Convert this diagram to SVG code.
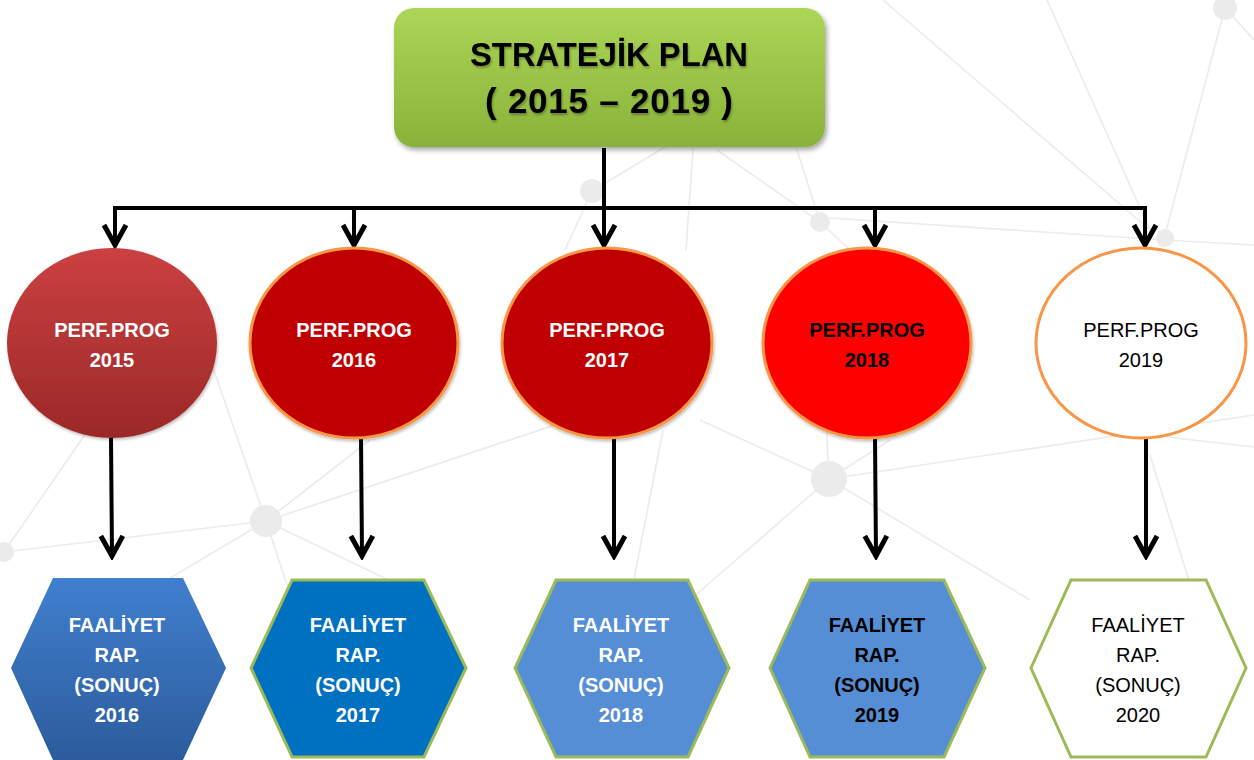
<svg xmlns="http://www.w3.org/2000/svg" width="1254" height="760" viewBox="0 0 1254 760">
<style>
.bg line{stroke:#ebebeb;stroke-width:1.6}
.bg circle{fill:#ebebeb}
.conn{stroke:#000;stroke-width:4;fill:none}
.t{font-family:"Liberation Sans",Arial,sans-serif;text-anchor:middle}
.tb{font-weight:bold}
.tw{fill:#fff}
.tk{fill:#000}
.circ{stroke:#f79646;stroke-width:3}
.hex{stroke:#9bbb59;stroke-width:3}
</style>
<defs>
<linearGradient id="gTop" x1="0" y1="0" x2="0" y2="1">
<stop offset="0" stop-color="#acd656"/>
<stop offset="1" stop-color="#89b23a"/>
</linearGradient>
<linearGradient id="gC1" x1="0" y1="0" x2="0" y2="1">
<stop offset="0" stop-color="#cc4040"/>
<stop offset="1" stop-color="#9b2828"/>
</linearGradient>
<linearGradient id="gH1" x1="0" y1="0" x2="0" y2="1">
<stop offset="0" stop-color="#407fce"/>
<stop offset="1" stop-color="#2c5c9c"/>
</linearGradient>
<filter id="sh" x="-10%" y="-10%" width="125%" height="130%">
<feDropShadow dx="2" dy="3" stdDeviation="2.5" flood-color="#000" flood-opacity="0.35"/>
</filter>
<filter id="shs" x="-10%" y="-10%" width="125%" height="130%">
<feDropShadow dx="1" dy="2" stdDeviation="1.5" flood-color="#000" flood-opacity="0.25"/>
</filter>
<filter id="tsh" x="-5%" y="-20%" width="110%" height="150%">
<feDropShadow dx="1" dy="2" stdDeviation="1" flood-color="#000" flood-opacity="0.3"/>
</filter>
<marker id="arr" markerUnits="userSpaceOnUse" viewBox="-26 -16 30 32" markerWidth="30" markerHeight="32" refX="0" refY="0" orient="auto">
<path d="M-20,-11 L0,0 L-20,11" fill="none" stroke="#000" stroke-width="5" stroke-linejoin="miter"/>
</marker>
</defs>
<rect width="1254" height="760" fill="#fff"/>
<g class="bg">
<line x1="266" y1="521" x2="4" y2="552"/>
<line x1="266" y1="521" x2="200" y2="330"/>
<line x1="266" y1="521" x2="600" y2="410"/>
<line x1="266" y1="521" x2="370" y2="440"/>
<line x1="266" y1="521" x2="430" y2="600"/>
<line x1="266" y1="521" x2="292" y2="600"/>
<line x1="266" y1="521" x2="150" y2="590"/>
<line x1="4" y1="552" x2="95" y2="420"/>
<line x1="829" y1="479" x2="826" y2="420"/>
<line x1="829" y1="479" x2="700" y2="420"/>
<line x1="829" y1="479" x2="890" y2="440"/>
<line x1="829" y1="479" x2="1254" y2="415"/>
<line x1="829" y1="479" x2="690" y2="600"/>
<line x1="829" y1="479" x2="1030" y2="600"/>
<line x1="663" y1="430" x2="630" y2="600"/>
<line x1="1150" y1="455" x2="1195" y2="600"/>
<line x1="1167" y1="437" x2="1254" y2="447"/>
<line x1="592" y1="191" x2="665" y2="147"/>
<line x1="592" y1="191" x2="565" y2="250"/>
<line x1="693" y1="148" x2="686" y2="250"/>
<line x1="717" y1="150" x2="820" y2="222"/>
<line x1="797" y1="150" x2="820" y2="222"/>
<line x1="820" y1="222" x2="850" y2="250"/>
<line x1="883" y1="0" x2="1150" y2="230"/>
<line x1="1047" y1="0" x2="1150" y2="230"/>
<line x1="1225" y1="8" x2="1165" y2="235"/>
<line x1="1225" y1="8" x2="1254" y2="40"/>
<line x1="830" y1="218" x2="1165" y2="240"/>
<line x1="1165" y1="240" x2="1254" y2="245"/>
<circle cx="266" cy="521" r="16"/>
<circle cx="4" cy="552" r="10"/>
<circle cx="829" cy="479" r="18"/>
<circle cx="592" cy="191" r="12"/>
<circle cx="820" cy="222" r="10"/>
<circle cx="1225" cy="8" r="12"/>
<circle cx="1165" cy="238" r="9"/>
</g>
<g id="connectors">
<line class="conn" x1="604" y1="148" x2="604" y2="210"/>
<line class="conn" x1="113" y1="208" x2="1147" y2="208"/>
<line class="conn" x1="115" y1="208" x2="115" y2="245" marker-end="url(#arr)"/>
<line class="conn" x1="354" y1="208" x2="354" y2="245" marker-end="url(#arr)"/>
<line class="conn" x1="604" y1="208" x2="604" y2="245" marker-end="url(#arr)"/>
<line class="conn" x1="875" y1="208" x2="875" y2="245" marker-end="url(#arr)"/>
<line class="conn" x1="1145" y1="208" x2="1145" y2="245" marker-end="url(#arr)"/>
<line class="conn" x1="111" y1="438" x2="112" y2="556" marker-end="url(#arr)"/>
<line class="conn" x1="361" y1="438" x2="362" y2="556" marker-end="url(#arr)"/>
<line class="conn" x1="614" y1="438" x2="614" y2="556" marker-end="url(#arr)"/>
<line class="conn" x1="875" y1="438" x2="876" y2="556" marker-end="url(#arr)"/>
<line class="conn" x1="1146" y1="438" x2="1146" y2="556" marker-end="url(#arr)"/>
</g>
<g id="top">
<rect x="394" y="8" width="431" height="139" rx="20" fill="url(#gTop)" filter="url(#sh)"/>
<g filter="url(#tsh)">
<text class="t tb tk" x="609" y="66" font-size="33" textLength="278" lengthAdjust="spacingAndGlyphs">STRATEJİK PLAN</text>
<text class="t tb tk" x="609" y="113" font-size="35" textLength="248" lengthAdjust="spacing">( 2015 – 2019 )</text>
</g>
</g>
<g id="perf2015">
<ellipse cx="112" cy="343" rx="105" ry="95" fill="url(#gC1)" filter="url(#shs)"/>
<text class="t tb tw" x="112" y="337" font-size="20">PERF.PROG</text>
<text class="t tb tw" x="112" y="367" font-size="20">2015</text>
</g>
<g id="perf2016">
<ellipse class="circ" cx="354" cy="343" rx="104" ry="95" fill="#c00000" filter="url(#shs)"/>
<text class="t tb tw" x="354" y="337" font-size="20">PERF.PROG</text>
<text class="t tb tw" x="354" y="367" font-size="20">2016</text>
</g>
<g id="perf2017">
<ellipse class="circ" cx="607" cy="343" rx="105" ry="95" fill="#c00000" filter="url(#shs)"/>
<text class="t tb tw" x="607" y="337" font-size="20">PERF.PROG</text>
<text class="t tb tw" x="607" y="367" font-size="20">2017</text>
</g>
<g id="perf2018">
<ellipse class="circ" cx="867" cy="343" rx="104" ry="95" fill="#ff0000" filter="url(#shs)"/>
<text class="t tb tk" x="867" y="337" font-size="20">PERF.PROG</text>
<text class="t tb tk" x="867" y="367" font-size="20">2018</text>
</g>
<g id="perf2019">
<ellipse class="circ" cx="1141" cy="343" rx="105" ry="95" fill="#fff"/>
<text class="t tk" x="1141" y="337" font-size="20">PERF.PROG</text>
<text class="t tk" x="1141" y="367" font-size="20">2019</text>
</g>
<g id="rap2016">
<polygon points="11,668 53,578 183,578 226,668 183,760 53,760" fill="url(#gH1)"/>
<text class="t tb tw" x="117" y="632" font-size="20">FAALİYET</text>
<text class="t tb tw" x="117" y="662" font-size="20">RAP.</text>
<text class="t tb tw" x="117" y="692" font-size="20">(SONUÇ)</text>
<text class="t tb tw" x="117" y="722" font-size="20">2016</text>
</g>
<g id="rap2017">
<polygon class="hex" points="251,668 292,580 424,580 466,668 424,757 292,757" fill="#0070c0"/>
<text class="t tb tw" x="358" y="632" font-size="20">FAALİYET</text>
<text class="t tb tw" x="358" y="662" font-size="20">RAP.</text>
<text class="t tb tw" x="358" y="692" font-size="20">(SONUÇ)</text>
<text class="t tb tw" x="358" y="722" font-size="20">2017</text>
</g>
<g id="rap2018">
<polygon class="hex" points="515,668 556,580 688,580 729,668 688,757 556,757" fill="#558ed5"/>
<text class="t tb tw" x="621" y="632" font-size="20">FAALİYET</text>
<text class="t tb tw" x="621" y="662" font-size="20">RAP.</text>
<text class="t tb tw" x="621" y="692" font-size="20">(SONUÇ)</text>
<text class="t tb tw" x="621" y="722" font-size="20">2018</text>
</g>
<g id="rap2019">
<polygon class="hex" points="770,668 810,580 944,580 985,668 944,757 810,757" fill="#558ed5"/>
<text class="t tb tk" x="877" y="632" font-size="20">FAALİYET</text>
<text class="t tb tk" x="877" y="662" font-size="20">RAP.</text>
<text class="t tb tk" x="877" y="692" font-size="20">(SONUÇ)</text>
<text class="t tb tk" x="877" y="722" font-size="20">2019</text>
</g>
<g id="rap2020">
<polygon class="hex" points="1031,668 1071,580 1206,580 1246,668 1206,757 1071,757" fill="#fff"/>
<text class="t tk" x="1138" y="632" font-size="20">FAALİYET</text>
<text class="t tk" x="1138" y="662" font-size="20">RAP.</text>
<text class="t tk" x="1138" y="692" font-size="20">(SONUÇ)</text>
<text class="t tk" x="1138" y="722" font-size="20">2020</text>
</g>
</svg>
